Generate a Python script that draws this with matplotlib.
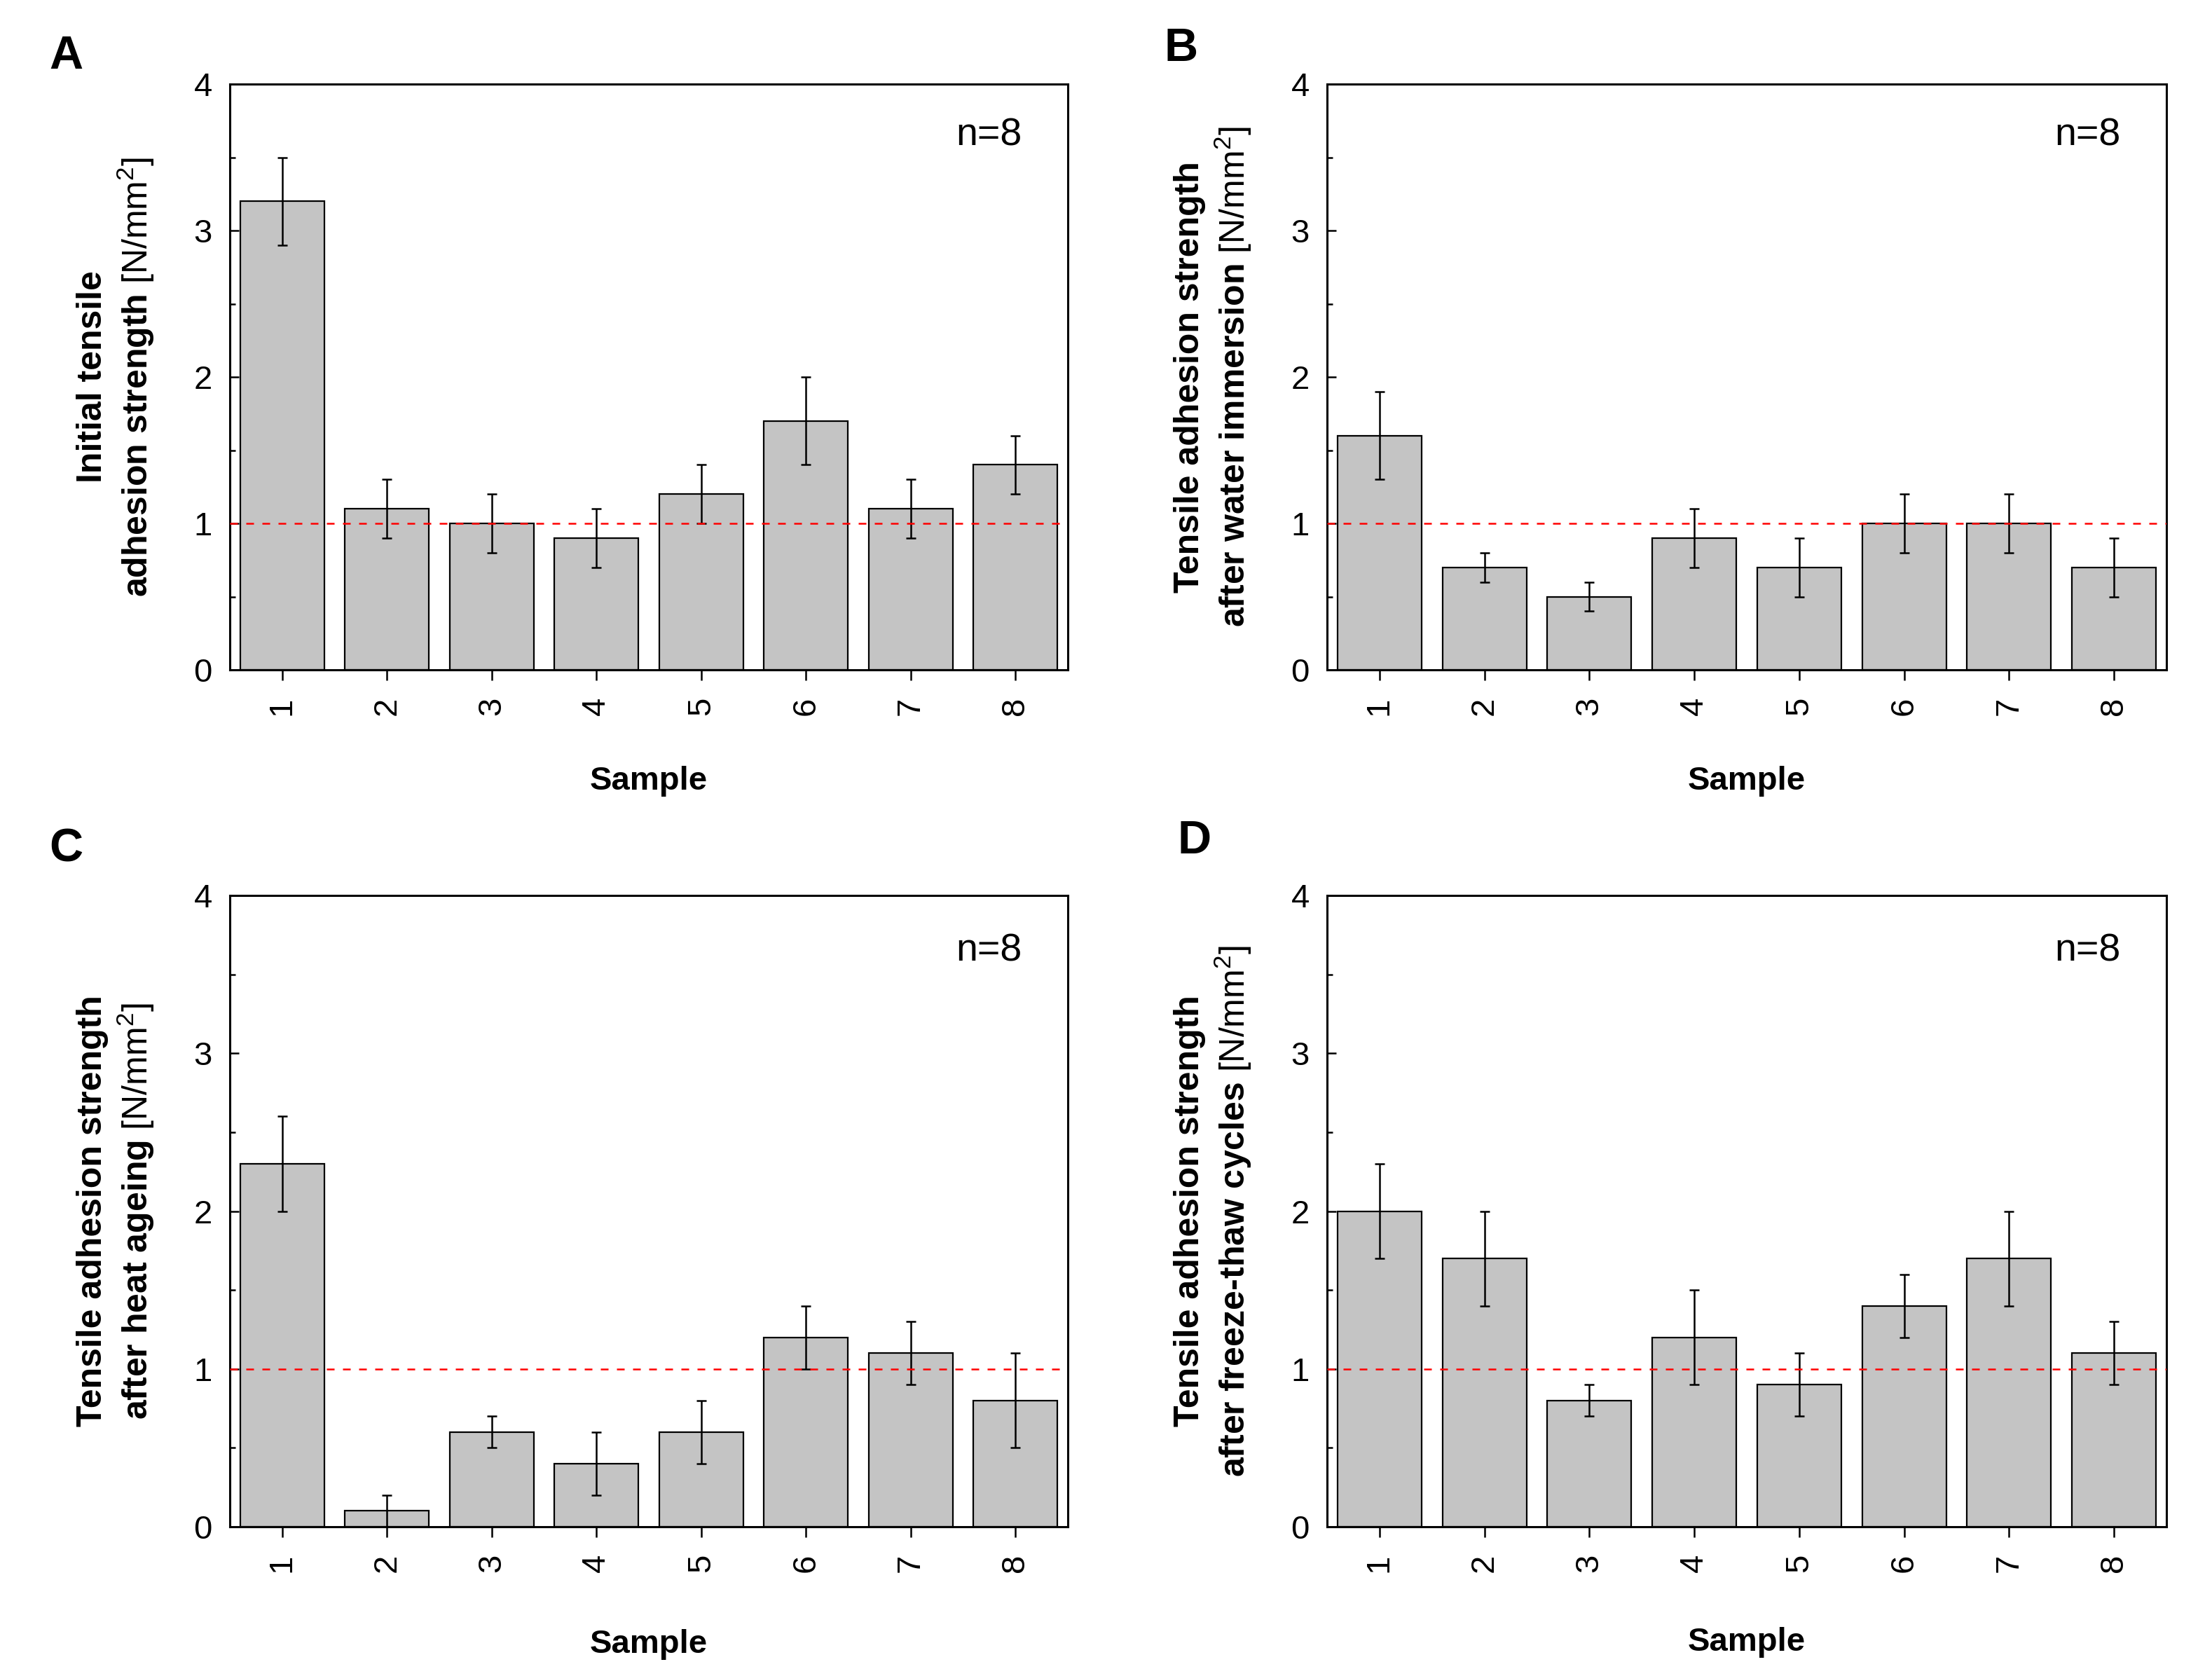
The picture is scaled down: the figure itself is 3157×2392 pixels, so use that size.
import numpy as np
import matplotlib
matplotlib.use("Agg")
import matplotlib.pyplot as plt
from matplotlib.ticker import MultipleLocator

plt.rcParams['font.family'] = ['Liberation Sans', 'DejaVu Sans']
plt.rcParams['mathtext.fontset'] = 'custom'
plt.rcParams['mathtext.rm'] = 'Liberation Sans'
plt.rcParams['mathtext.it'] = 'Liberation Sans:italic'
plt.rcParams['mathtext.bf'] = 'Liberation Sans:bold'

# Daten: Haftzugfestigkeit je Probe (Mittelwert und Streuung)
samples = ['1', '2', '3', '4', '5', '6', '7', '8']

initial_mean = [3.2, 1.1, 1.0, 0.9, 1.2, 1.7, 1.1, 1.4]
initial_err = [0.3, 0.2, 0.2, 0.2, 0.2, 0.3, 0.2, 0.2]

water_mean = [1.6, 0.7, 0.5, 0.9, 0.7, 1.0, 1.0, 0.7]
water_err = [0.3, 0.1, 0.1, 0.2, 0.2, 0.2, 0.2, 0.2]

heat_mean = [2.3, 0.1, 0.6, 0.4, 0.6, 1.2, 1.1, 0.8]
heat_err = [0.3, 0.1, 0.1, 0.2, 0.2, 0.2, 0.2, 0.3]

freeze_mean = [2.0, 1.7, 0.8, 1.2, 0.9, 1.4, 1.7, 1.1]
freeze_err = [0.3, 0.3, 0.1, 0.3, 0.2, 0.2, 0.3, 0.2]

panel_letters = ['A', 'B', 'C', 'D']
ylabels = [
    "Initial tensile\nadhesion strength $\\mathrm{[N/mm^2]}$",
    "Tensile adhesion strength\nafter water immersion $\\mathrm{[N/mm^2]}$",
    "Tensile adhesion strength\nafter heat ageing $\\mathrm{[N/mm^2]}$",
    "Tensile adhesion strength\nafter freeze-thaw cycles $\\mathrm{[N/mm^2]}$",
]
means = [initial_mean, water_mean, heat_mean, freeze_mean]
errs = [initial_err, water_err, heat_err, freeze_err]
threshold = 1.0
n_label = "n=8"

W, H = 3157, 2392
fig = plt.figure(figsize=(W / 200, H / 200), dpi=200)

# Achsenpositionen in Pixeln (links, oben, rechts, unten)
boxes = [(328, 120, 1524, 956), (1894, 120, 3092, 956),
         (328, 1278, 1524, 2179), (1894, 1278, 3092, 2179)]
letter_pos = [(70, 98), (1661, 87), (70, 1229), (1681, 1218)]
xlabel_pads = [26, 26, 29, 28]

x = np.arange(1, len(samples) + 1)

for i in range(4):
    l, t, r, b = boxes[i]
    ax = fig.add_axes([l / W, 1 - b / H, (r - l) / W, (b - t) / H])
    ax.bar(x, means[i], width=0.8, color='#c4c4c4', edgecolor='black',
           linewidth=0.8, zorder=2)
    ax.errorbar(x, means[i], yerr=errs[i], fmt='none', ecolor='black',
                elinewidth=0.9, capsize=2.6, capthick=0.9, zorder=3)
    ax.axhline(threshold, color='red', linewidth=0.9, dashes=(4.4, 4.8), zorder=4)

    ax.set_xlim(0.5, 8.5)
    ax.set_ylim(0, 4)
    ax.set_xticks(x)
    ax.set_xticklabels(samples, rotation=90)
    ax.yaxis.set_major_locator(MultipleLocator(1))
    ax.yaxis.set_minor_locator(MultipleLocator(0.5))
    ax.tick_params(axis='y', which='major', direction='in', length=4.7, width=0.9,
                   labelsize=17, pad=9)
    ax.tick_params(axis='y', which='minor', direction='in', length=2.9, width=0.9)
    ax.tick_params(axis='x', direction='out', length=5.4, width=0.9,
                   labelsize=17, pad=8.5)
    for s in ax.spines.values():
        s.set_linewidth(1.1)

    ax.set_xlabel("Sample", fontsize=17, fontweight='bold', labelpad=xlabel_pads[i])
    ax.set_ylabel(ylabels[i], fontsize=18, fontweight='bold')
    ax.yaxis.set_label_coords(-0.088, 0.5)

    ax.text(0.945, 0.912, n_label, transform=ax.transAxes, ha='right', va='center',
            fontsize=20)

    lx, ly = letter_pos[i]
    fig.text(lx / W, 1 - ly / H, panel_letters[i], fontsize=24, fontweight='bold',
             ha='left', va='baseline')

fig.savefig("out.png", dpi=200)
